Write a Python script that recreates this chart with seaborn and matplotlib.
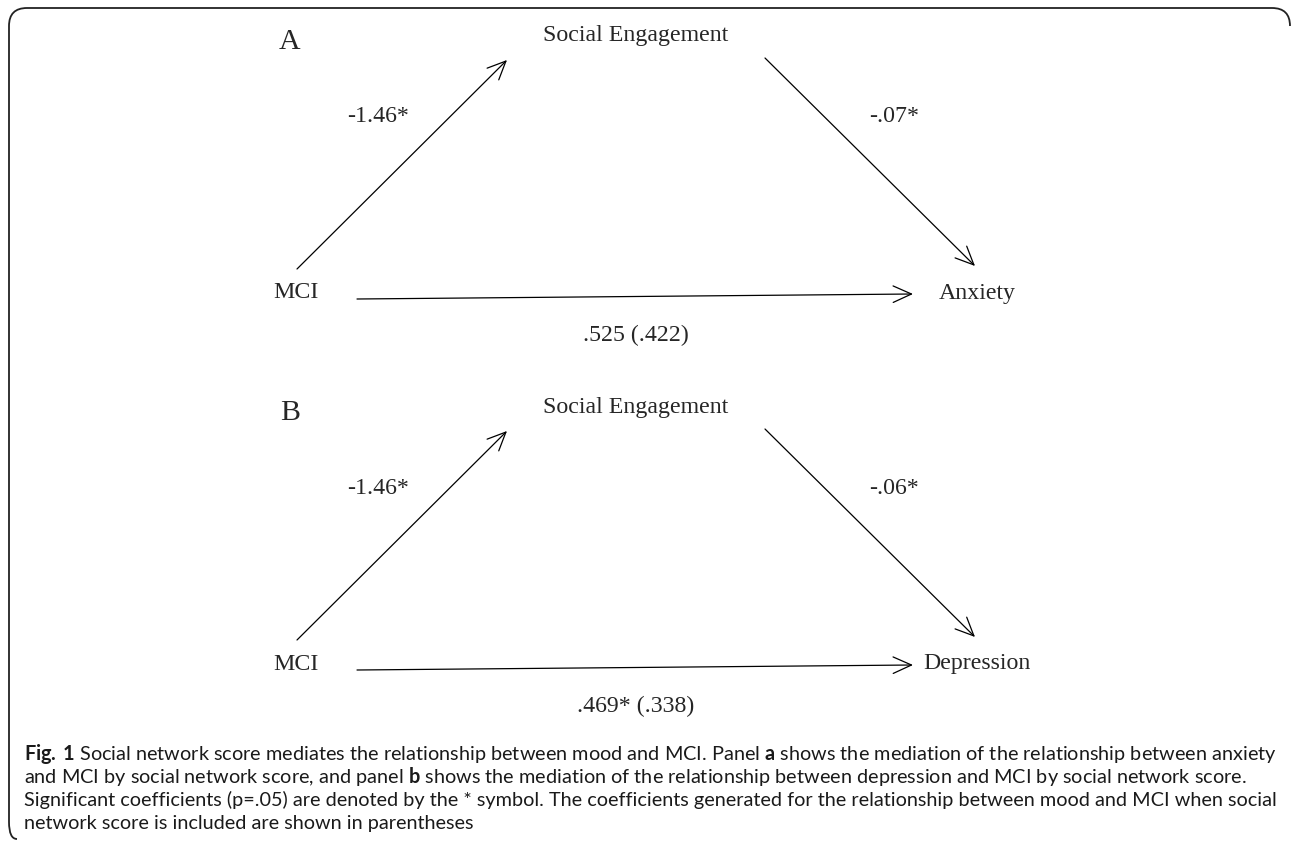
import numpy as np
import pandas as pd
import seaborn as sns
import matplotlib.pyplot as plt
from matplotlib.path import Path
from matplotlib.patches import PathPatch

# diagram content
panels = ["A", "B"]
mediator = "Social Engagement"
predictor = "MCI"
outcomes = ["Anxiety", "Depression"]
path_a = ["-1.46*", "-1.46*"]
path_b = ["-.07*", "-.06*"]
path_c = [".525 (.422)", ".469* (.338)"]

caption = [
    r"$\mathbf{Fig.\,1}$ Social network score mediates the relationship between mood and MCI. Panel $\mathbf{a}$ shows the mediation of the relationship between anxiety",
    r"and MCI by social network score, and panel $\mathbf{b}$ shows the mediation of the relationship between depression and MCI by social network score.",
    "Significant coefficients (p=.05) are denoted by the * symbol. The coefficients generated for the relationship between mood and MCI when social",
    "network score is included are shown in parentheses",
]

sns.set_theme(style="white")
plt.rcParams['font.family'] = ['Liberation Serif', 'DejaVu Serif']
plt.rcParams['mathtext.fontset'] = 'custom'
plt.rcParams['mathtext.bf'] = 'Lato:bold'
plt.rcParams['mathtext.rm'] = 'Lato'

fig = plt.figure(figsize=(12.92, 8.43), dpi=100)
ax = fig.add_axes([0, 0, 1, 1])
ax.set_xlim(0, 1292)
ax.set_ylim(843, 0)
ax.axis('off')

# frame: top, left, corners
verts = [(1290, 26), (1290, 8), (1272, 8), (27, 8), (9, 8), (9, 26),
         (9, 822), (9, 839), (17, 839)]
codes = [Path.MOVETO, Path.CURVE3, Path.CURVE3, Path.LINETO, Path.CURVE3, Path.CURVE3,
         Path.LINETO, Path.CURVE3, Path.CURVE3]
ax.add_patch(PathPatch(Path(verts, codes), fill=False, lw=1.3, edgecolor='#222222'))

arrow = dict(arrowstyle="->,head_length=0.6,head_width=0.27", lw=0.9, color='black',
             mutation_scale=22, shrinkA=0, shrinkB=0)

fs = 17.2
offsets = [0, 371]
for i, dy in enumerate(offsets):
    ax.text(290, 42 + dy, panels[i], fontsize=21.5, ha='center', va='center')
    ax.text(636, 36 + dy, mediator, fontsize=fs, ha='center', va='center')
    ax.text(296, 293 + dy, predictor, fontsize=fs, ha='center', va='center')
    ax.text(977, 293 + dy, outcomes[i], fontsize=fs, ha='center', va='center')
    ax.text(378, 117 + dy, path_a[i], fontsize=fs, ha='center', va='center')
    ax.text(894, 117 + dy, path_b[i], fontsize=fs, ha='center', va='center')
    ax.text(636, 335 + dy, path_c[i], fontsize=fs, ha='center', va='center')

    ax.annotate("", xy=(507, 60 + dy), xytext=(297, 269 + dy), arrowprops=arrow)
    ax.annotate("", xy=(975, 266 + dy), xytext=(765, 58 + dy), arrowprops=arrow)
    ax.annotate("", xy=(913, 294 + dy), xytext=(357, 299 + dy), arrowprops=arrow)

# caption, fitted to the frame width
cap_y = [754, 777, 800, 823]
texts = [ax.text(24, y, line, fontsize=12, ha='left', va='center',
                 family=['Lato', 'DejaVu Sans'], color='#1a1a1a')
         for line, y in zip(caption, cap_y)]
fig.canvas.draw()
w = texts[0].get_window_extent(fig.canvas.get_renderer()).width
size = 12 * 1248 / w
for t in texts:
    t.set_fontsize(size)

fig.savefig('out.png', dpi=100, facecolor='white')
